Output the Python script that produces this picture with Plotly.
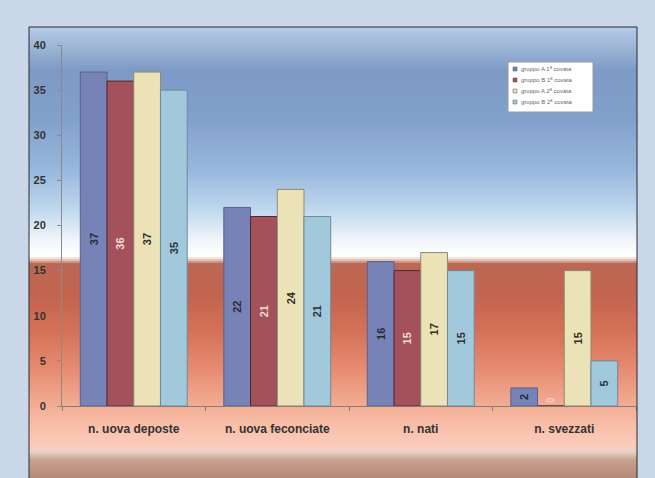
import plotly.graph_objects as go

categories = ["n. uova deposte", "n. uova feconcìate".replace("ì", "i"), "n. nati", "n. svezzati"]
series_names = ["gruppo A 1ª covata", "gruppo B 1ª covata", "gruppo A 2ª covata", "gruppo B 2ª covata"]
grp_a1 = [37, 22, 16, 2]
grp_b1 = [36, 21, 15, 0]
grp_a2 = [37, 24, 17, 15]
grp_b2 = [35, 21, 15, 5]
y_ticks = [0, 5, 10, 15, 20, 25, 30, 35, 40]

series_values = [grp_a1, grp_b1, grp_a2, grp_b2]
bar_colors = ["#7783b6", "#a3525c", "#ece2b8", "#a2c8dc"]
line_colors = ["#5a628a", "#4a2c2c", "#8f8a70", "#6d8a98"]
text_colors = ["#2a2a36", "#f5dada", "#332e22", "#28343a"]

W, H = 655, 478
L, R, T, B = 62, 636, 45, 406
FONT = "Liberation Sans, Arial"

fig = go.Figure()
for name, vals, c, lc, tc in zip(series_names, series_values, bar_colors, line_colors, text_colors):
    fig.add_trace(go.Bar(
        x=categories, y=vals, name=name,
        marker=dict(color=c, line=dict(color=lc, width=1)),
        text=[str(v) for v in vals],
        textposition=["outside" if v == 0 else "inside" for v in vals],
        insidetextanchor="middle",
        textangle=-90,
        textfont=dict(family=FONT, size=11, color=tc, weight="bold"),
        outsidetextfont=dict(family=FONT, size=10, color="#f6caca", weight="bold"),
        cliponaxis=False,
        showlegend=False,
    ))

# background gradient (decoration)
stops = [
    (27, (180, 204, 230)), (45, (160, 184, 216)), (70, (126, 154, 198)),
    (120, (130, 160, 204)), (170, (152, 183, 220)), (210, (192, 216, 238)),
    (240, (240, 245, 250)), (256, (255, 255, 255)), (259, (240, 214, 204)),
    (264, (186, 104, 84)), (295, (194, 100, 78)), (330, (212, 112, 88)),
    (370, (230, 140, 114)), (400, (240, 168, 142)), (425, (248, 190, 168)),
    (446, (252, 204, 186)), (452, (232, 208, 198)), (460, (200, 160, 144)),
    (470, (192, 148, 132)), (478, (180, 136, 120)),
]

def col_at(y):
    for (y0, c0), (y1, c1) in zip(stops[:-1], stops[1:]):
        if y0 <= y <= y1:
            t = (y - y0) / (y1 - y0) if y1 > y0 else 0
            return "rgb(%d,%d,%d)" % tuple(round(a + (b - a) * t) for a, b in zip(c0, c1))
    return "rgb(%d,%d,%d)" % stops[-1][1]

def px_x(x):
    return (x - L) / (R - L)

def px_y(y):
    return (B - y) / (B - T)

shapes = []
px0, px1 = 29, 637
y = 27
step = 2
while y < 478:
    shapes.append(dict(type="rect", xref="paper", yref="paper",
                       x0=px_x(px0), x1=px_x(px1), y0=px_y(y + step + 0.5), y1=px_y(y),
                       fillcolor=col_at(y + step / 2), line=dict(width=0), layer="below"))
    y += step
shapes.append(dict(type="rect", xref="paper", yref="paper",
                   x0=px_x(px0), x1=px_x(px1), y0=px_y(479), y1=px_y(27),
                   fillcolor="rgba(0,0,0,0)", line=dict(color="#2a2a2a", width=1), layer="above"))

# small legend box (drawn manually to match the tiny original)
lx0, lx1, ly0, ly1 = 508, 593, 62, 112
shapes.append(dict(type="rect", xref="paper", yref="paper",
                   x0=px_x(lx0), x1=px_x(lx1), y0=px_y(ly1), y1=px_y(ly0),
                   fillcolor="#ffffff", line=dict(color="#9a9a9a", width=1), layer="above"))
annotations = []
for i, (name, c) in enumerate(zip(series_names, bar_colors)):
    yc = 69 + i * 11
    shapes.append(dict(type="rect", xref="paper", yref="paper",
                       x0=px_x(513), x1=px_x(517), y0=px_y(yc + 2), y1=px_y(yc - 2),
                       fillcolor=c, line=dict(color="#555", width=0.5), layer="above"))
    annotations.append(dict(xref="paper", yref="paper", x=px_x(519), y=px_y(yc),
                            xanchor="left", yanchor="middle", showarrow=False,
                            text=name, font=dict(family=FONT, size=6, color="#666")))

fig.update_layout(
    width=W, height=H,
    margin=dict(l=L, r=W - R, t=T, b=H - B),
    paper_bgcolor="#c9d7e8",
    plot_bgcolor="rgba(0,0,0,0)",
    barmode="group", bargap=0.255, bargroupgap=0,
    shapes=shapes,
    annotations=annotations,
    showlegend=False,
    xaxis=dict(showline=True, linecolor="#8a7a78", linewidth=1,
               ticks="outside", tickson="boundaries", ticklen=4, tickcolor="#8a7a78",
               ticklabelstandoff=12,
               tickfont=dict(family=FONT, size=12, color="#333333", weight="bold"),
               showgrid=False),
    yaxis=dict(range=[0, 40], tickvals=y_ticks, showline=True, linecolor="#8a8a8a", linewidth=1,
               ticks="outside", ticklen=4, tickcolor="#8a8a8a", ticklabelstandoff=9,
               tickfont=dict(family=FONT, size=11, color="#333333", weight="bold"),
               showgrid=False, zeroline=False),
    font=dict(family=FONT),
)

fig.write_html("out.html")
